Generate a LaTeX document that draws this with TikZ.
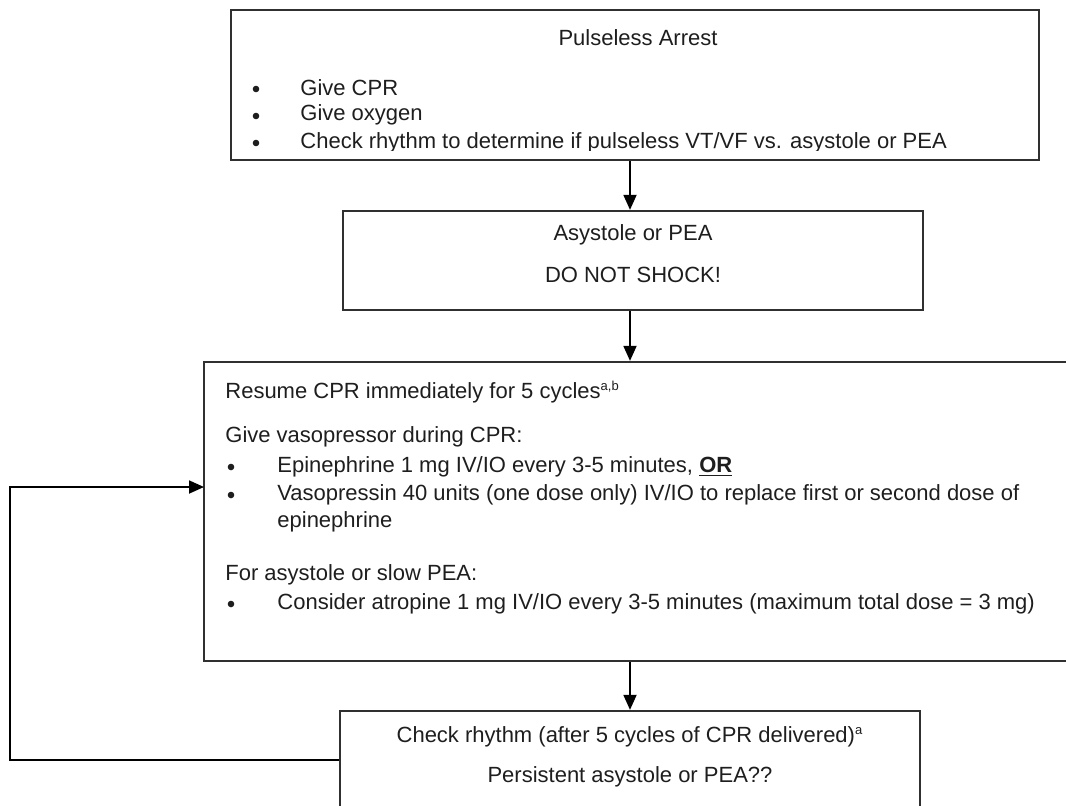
\documentclass[tikz,border=0pt]{standalone}
\usepackage{fontspec}
\setmainfont{Liberation Sans}
\usetikzlibrary{arrows.meta,fit}
\definecolor{ink}{HTML}{1E1E1E}
\definecolor{frame}{HTML}{303030}
\begin{document}
\begin{tikzpicture}[x=0.5pt,y=-0.5pt,
  box/.style={draw=frame,line width=1.15pt,inner sep=0pt},
  txt/.style={anchor=west,inner sep=0pt,text=ink,font=\fontsize{11}{13}\selectfont},
  ctxt/.style={inner sep=0pt,text=ink,font=\fontsize{11}{13}\selectfont},
  dot/.style={circle,fill=ink,inner sep=0pt,minimum size=3.3pt},
  arr/.style={draw=black,line width=0.9pt,-{Triangle[length=7.5pt,width=6.5pt]}}
]
\useasboundingbox (0,0) rectangle (1066,805);
\clip (0,0) rectangle (1066,805);

% boxes
\node[box,fit={(231,10) (1039,160)}] (arrest) {};
\node[box,fit={(343,211) (923,310)}] (asys) {};
\node[box,fit={(204,362) (1090,661)}] (resume) {};
\node[box,fit={(340,711) (920,850)}] (check) {};

% first box: the last line is cut off at its baseline
\node[ctxt] (h1) at (638,38) {Pulseless Arrest};
\begin{scope}
  \clip (231,10) rectangle (1039,150);
  \node[dot] (d1) at (256,89) {};
  \node[dot] (d2) at (256,116) {};
  \node[dot] (d3) at (256,143) {};
  \node[txt] (l1) at (300,88) {Give CPR};
  \node[txt] (l2) at (300,115) {Give oxygen};
  \node[txt] (l3) at (300,143) {Check rhythm to determine if pulseless VT/VF vs. asystole or PEA};
\end{scope}

% second box
\node[ctxt] (a1) at (633,235) {Asystole or PEA};
\node[ctxt] (a2) at (633,275) {DO NOT SHOCK!};

% third box
\node[txt] (r1) at (225,392) {Resume CPR immediately for 5 cycles\textsuperscript{\fontsize{6.5}{6.5}\selectfont a,b}};
\node[txt] (r2) at (225,437) {Give vasopressor during CPR:};
\node[dot] (e1) at (231,467) {};
\node[txt] (r3) at (277,467) {Epinephrine 1 mg IV/IO every 3-5 minutes, \textbf{\underline{OR}}};
\node[dot] (e2) at (231,495) {};
\node[txt] (r4) at (277,495) {Vasopressin 40 units (one dose only) IV/IO to replace first or second dose of};
\node[txt] (r5) at (277,522) {epinephrine};
\node[txt] (r6) at (225,575) {For asystole or slow PEA:};
\node[dot] (e3) at (231,604) {};
\node[txt] (r7) at (277,604) {Consider atropine 1 mg IV/IO every 3-5 minutes (maximum total dose = 3 mg)};

% fourth box
\node[ctxt] (c1) at (630,737) {Check rhythm (after 5 cycles of CPR delivered)\textsuperscript{\fontsize{6.5}{6.5}\selectfont a}};
\node[ctxt] (c2) at (630,777) {Persistent asystole or PEA??};

% connectors
\coordinate (ax) at (630,0);
\coordinate (loopL) at (10,760);
\coordinate (loopIn) at (204,487);
\draw[arr] (arrest.south -| ax) -- (asys.north -| ax);
\draw[arr] (asys.south -| ax) -- (resume.north -| ax);
\draw[arr] (resume.south -| ax) -- (check.north -| ax);
\draw[arr] (check.west |- loopL) -- (loopL) |- (loopIn);
\end{tikzpicture}
\end{document}
